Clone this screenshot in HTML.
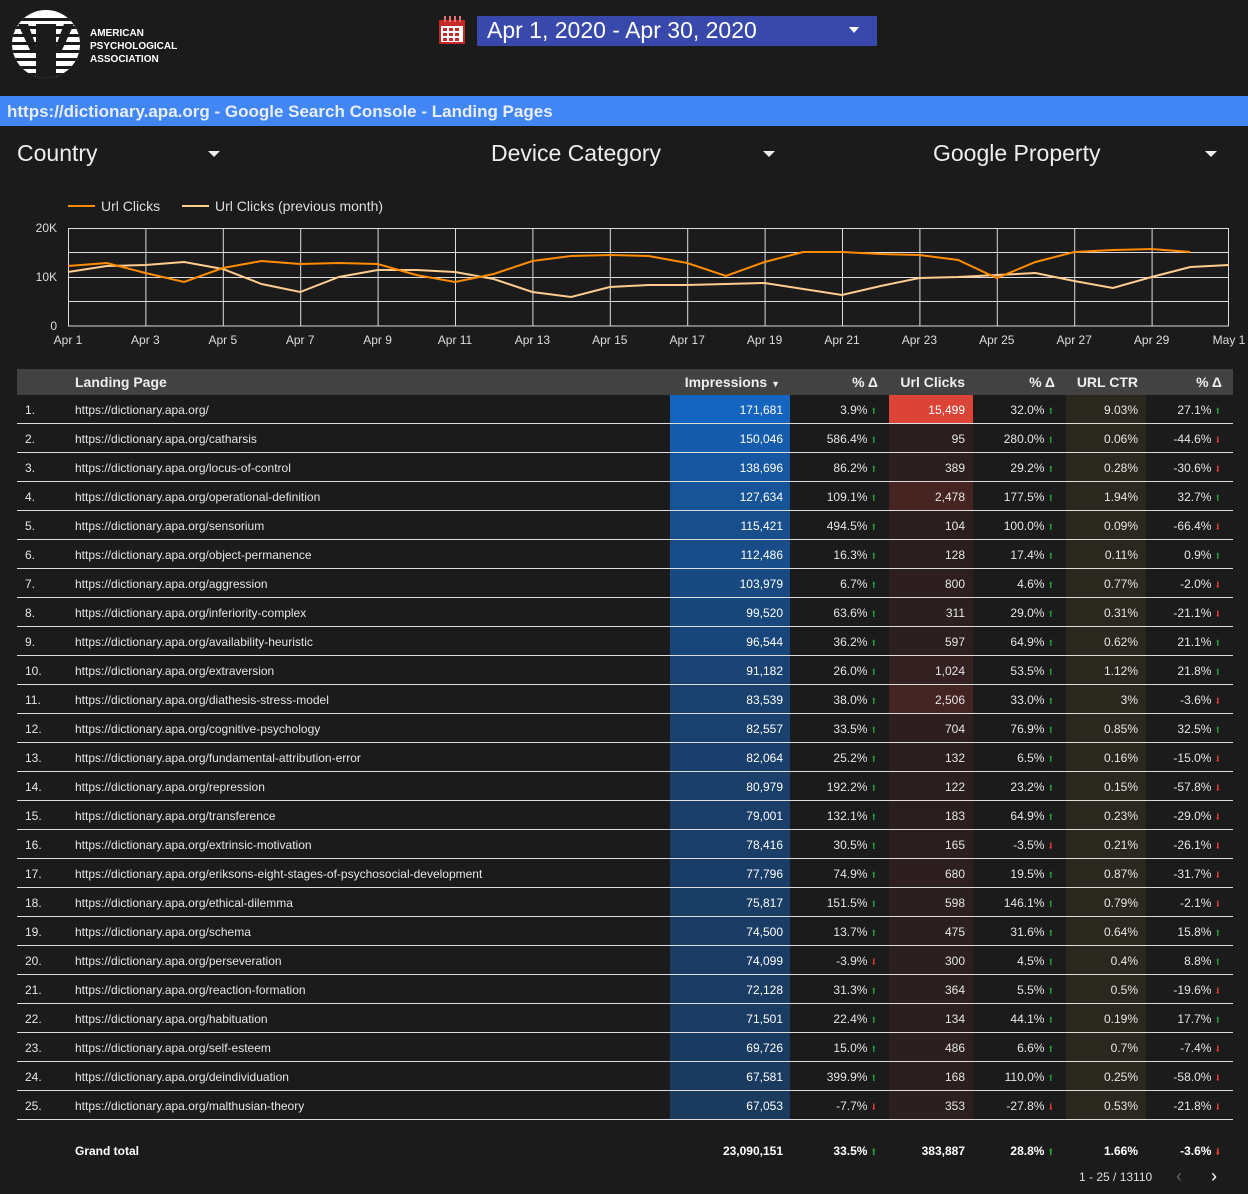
<!DOCTYPE html>
<html><head><meta charset="utf-8">
<style>
*{margin:0;padding:0;box-sizing:border-box}
body{width:1248px;height:1194px;background:#1b1b1b;font-family:"Liberation Sans",sans-serif;color:#e8e8e8;position:relative;overflow:hidden}
.abs{position:absolute}
.date{left:477px;top:16px;width:400px;height:30px;background:#3949ab;color:#fff;font-size:23px;line-height:29px;padding-left:10px}
.bar{left:0;top:96px;width:1248px;height:30px;background:#4285f4;color:#e8eef8;font-size:17px;font-weight:bold;line-height:31px;padding-left:7px}
.flt{top:140px;font-size:23px;color:#eee}
.tri{width:0;height:0;border-left:6px solid transparent;border-right:6px solid transparent;border-top:6px solid #eee}
table{position:absolute;left:17px;top:369px;width:1216px;border-collapse:collapse;border-spacing:0;font-size:12px;table-layout:fixed}
th{background:#424242;height:26px;font-size:14px;font-weight:bold;color:#eee;text-align:right;padding-right:11px}
td{height:29px;box-shadow:inset 0 -1px 0 #ddd;text-align:right;padding-right:11px;padding-top:0;padding-bottom:0;white-space:nowrap;color:#e6e6e6}
td.l,th.l{text-align:left;padding-left:0}
td.i{text-align:left;padding-left:8px}
td.im{padding-right:7px;color:#fff}
td.c{padding-right:8px}
td.t{padding-right:8px;background:#2a281e}
.u,.d{font-size:9px;margin-left:3px;display:inline-block;transform:scaleX(0.7)}
.u{color:#1e9e3a}.d{color:#e53935}
tr.tot td{box-shadow:none;font-weight:bold;height:62px;color:#fff}
tr.tot td.t{background:none}
</style></head><body>
<svg class="abs" style="left:0;top:0" width="200" height="90">
<defs><clipPath id="cc"><circle cx="46" cy="44" r="34"/></clipPath></defs>
<g clip-path="url(#cc)">
<rect x="0" y="0" width="100" height="90" fill="#fff"/>
<g fill="#1b1b1b">
<rect x="0" y="18" width="100" height="3"/><rect x="0" y="26" width="100" height="3"/><rect x="0" y="34" width="100" height="3"/><rect x="0" y="42" width="100" height="3"/><rect x="0" y="50" width="100" height="3"/><rect x="0" y="58" width="100" height="3"/><rect x="0" y="66" width="100" height="3"/><rect x="0" y="73" width="100" height="3"/>
<polygon points="18,24 28,24 36,46 36,24 44,24 44,78 36,78 36,52 30,50"/>
<polygon points="48,24 56,24 56,46 64,24 74,24 62,50 56,52 56,78 48,78"/>
<rect x="43" y="24" width="6" height="54"/>
</g></g>
<text x="90" y="36" fill="#fff" font-family="Liberation Sans" font-weight="bold" font-size="10">AMERICAN</text>
<text x="90" y="49" fill="#fff" font-family="Liberation Sans" font-weight="bold" font-size="10">PSYCHOLOGICAL</text>
<text x="90" y="62" fill="#fff" font-family="Liberation Sans" font-weight="bold" font-size="10">ASSOCIATION</text>
</svg>
<svg class="abs" style="left:438px;top:16px" width="28" height="30">
<rect x="1" y="4" width="26" height="24" fill="#c62828"/><rect x="3" y="10" width="22" height="16" fill="#fff"/>
<g fill="#c62828"><rect x="5" y="12" width="4" height="3"/><rect x="11" y="12" width="4" height="3"/><rect x="17" y="12" width="4" height="3"/><rect x="5" y="17" width="4" height="3"/><rect x="11" y="17" width="4" height="3"/><rect x="17" y="17" width="4" height="3"/><rect x="5" y="22" width="4" height="3"/><rect x="11" y="22" width="4" height="3"/><rect x="17" y="22" width="4" height="3"/></g>
<g fill="#e57373"><rect x="6" y="0" width="2" height="6"/><rect x="11" y="0" width="2" height="6"/><rect x="16" y="0" width="2" height="6"/><rect x="21" y="0" width="2" height="6"/></g>
</svg>
<div class="abs date">Apr 1, 2020 - Apr 30, 2020<div class="abs tri" style="left:372px;top:11px;border-top-color:#fff;border-left-width:5px;border-right-width:5px;border-top-width:6px"></div></div>
<div class="abs bar">https://dictionary.apa.org - Google Search Console - Landing Pages</div>
<div class="abs flt" style="left:17px">Country</div><div class="abs tri" style="left:208px;top:151px"></div>
<div class="abs flt" style="left:491px">Device Category</div><div class="abs tri" style="left:763px;top:151px"></div>
<div class="abs flt" style="left:933px">Google Property</div><div class="abs tri" style="left:1205px;top:151px"></div>

<svg class="abs" style="left:0;top:190px" width="1248" height="170" font-family="Liberation Sans" font-size="12" fill="#ddd">
<g transform="translate(0,-190)">
<line x1="68" y1="206" x2="95" y2="206" stroke="#ff8c00" stroke-width="2"/>
<text x="101" y="211" font-size="14">Url Clicks</text>
<line x1="182" y1="206" x2="209" y2="206" stroke="#ffcc8f" stroke-width="2"/>
<text x="215" y="211" font-size="14">Url Clicks (previous month)</text>
<g stroke="#ddd" stroke-width="1">
<line x1="68" y1="228.5" x2="1229" y2="228.5"/><line x1="68" y1="252.5" x2="1229" y2="252.5"/><line x1="68" y1="277.5" x2="1229" y2="277.5"/><line x1="68" y1="301.5" x2="1229" y2="301.5"/><line x1="68" y1="326" x2="1229" y2="326"/>
<line x1="68.5" y1="228" x2="68.5" y2="326"/><line x1="145.9" y1="228" x2="145.9" y2="326"/><line x1="223.3" y1="228" x2="223.3" y2="326"/><line x1="300.7" y1="228" x2="300.7" y2="326"/><line x1="378.1" y1="228" x2="378.1" y2="326"/><line x1="455.5" y1="228" x2="455.5" y2="326"/><line x1="532.9" y1="228" x2="532.9" y2="326"/><line x1="610.3" y1="228" x2="610.3" y2="326"/><line x1="687.7" y1="228" x2="687.7" y2="326"/><line x1="765.1" y1="228" x2="765.1" y2="326"/><line x1="842.5" y1="228" x2="842.5" y2="326"/><line x1="919.9" y1="228" x2="919.9" y2="326"/><line x1="997.3" y1="228" x2="997.3" y2="326"/><line x1="1074.7" y1="228" x2="1074.7" y2="326"/><line x1="1152.1" y1="228" x2="1152.1" y2="326"/><line x1="1228.5" y1="228" x2="1228.5" y2="326"/>
</g>
<polyline fill="none" stroke="#ffcc8f" stroke-width="2" points="68,272 106.7,266 145.4,265 184.1,262 222.8,269 261.5,284 300.2,292 338.9,277 377.6,270 416.3,270 455,272 493.7,279 532.4,292 571.1,297 609.8,287 648.5,285 687.2,285 725.9,284 764.6,283 803.3,289 842,295 880.7,286 919.4,278 958.1,277 996.8,275 1035.5,273 1074.2,281 1112.9,288 1151.6,277 1190.3,267 1229,265"/>
<polyline fill="none" stroke="#ff8c00" stroke-width="2" points="68,266 106.7,263 145.4,273 184.1,282 222.8,268 261.5,261 300.2,264 338.9,263 377.6,264 416.3,275 455,282 493.7,274 532.4,261 571.1,256 609.8,255 648.5,256 687.2,263 725.9,276 764.6,262 803.3,252 842,252 880.7,254 919.4,255 958.1,260 996.8,278 1035.5,262 1074.2,252 1112.9,250 1151.6,249 1190.3,252"/>
<text x="57" y="232" text-anchor="end">20K</text><text x="57" y="281" text-anchor="end">10K</text><text x="57" y="330" text-anchor="end">0</text>
<g text-anchor="middle"><text x="68" y="344">Apr 1</text><text x="145.4" y="344">Apr 3</text><text x="222.8" y="344">Apr 5</text><text x="300.2" y="344">Apr 7</text><text x="377.6" y="344">Apr 9</text><text x="455" y="344">Apr 11</text><text x="532.4" y="344">Apr 13</text><text x="609.8" y="344">Apr 15</text><text x="687.2" y="344">Apr 17</text><text x="764.6" y="344">Apr 19</text><text x="842" y="344">Apr 21</text><text x="919.4" y="344">Apr 23</text><text x="996.8" y="344">Apr 25</text><text x="1074.2" y="344">Apr 27</text><text x="1151.6" y="344">Apr 29</text><text x="1229" y="344">May 1</text></g>
</g></svg>

<table>
<colgroup><col style="width:58px"><col style="width:595px"><col style="width:120px"><col style="width:99px"><col style="width:84px"><col style="width:93px"><col style="width:80px"><col style="width:87px"></colgroup>
<tr><th></th><th class="l">Landing Page</th><th style="padding-right:10px">Impressions <span style="font-size:9px">▼</span></th><th>% Δ</th><th style="padding-right:8px">Url Clicks</th><th>% Δ</th><th style="padding-right:8px">URL CTR</th><th>% Δ</th></tr>
<tr><td class="i">1.</td><td class="l">https://dictionary.apa.org/</td><td class="im" style="background:rgb(21,101,192)">171,681</td><td>3.9%<span class="u">⬆</span></td><td class="c" style="background:#db4437;color:#fff">15,499</td><td>32.0%<span class="u">⬆</span></td><td class="t">9.03%</td><td>27.1%<span class="u">⬆</span></td></tr>
<tr><td class="i">2.</td><td class="l">https://dictionary.apa.org/catharsis</td><td class="im" style="background:rgb(22,92,172)">150,046</td><td>586.4%<span class="u">⬆</span></td><td class="c" style="background:#2a1e1e">95</td><td>280.0%<span class="u">⬆</span></td><td class="t">0.06%</td><td>-44.6%<span class="d">⬇</span></td></tr>
<tr><td class="i">3.</td><td class="l">https://dictionary.apa.org/locus-of-control</td><td class="im" style="background:rgb(23,87,161)">138,696</td><td>86.2%<span class="u">⬆</span></td><td class="c" style="background:#2b1f1f">389</td><td>29.2%<span class="u">⬆</span></td><td class="t">0.28%</td><td>-30.6%<span class="d">⬇</span></td></tr>
<tr><td class="i">4.</td><td class="l">https://dictionary.apa.org/operational-definition</td><td class="im" style="background:rgb(23,83,151)">127,634</td><td>109.1%<span class="u">⬆</span></td><td class="c" style="background:#462422">2,478</td><td>177.5%<span class="u">⬆</span></td><td class="t">1.94%</td><td>32.7%<span class="u">⬆</span></td></tr>
<tr><td class="i">5.</td><td class="l">https://dictionary.apa.org/sensorium</td><td class="im" style="background:rgb(24,78,139)">115,421</td><td>494.5%<span class="u">⬆</span></td><td class="c" style="background:#2a1e1e">104</td><td>100.0%<span class="u">⬆</span></td><td class="t">0.09%</td><td>-66.4%<span class="d">⬇</span></td></tr>
<tr><td class="i">6.</td><td class="l">https://dictionary.apa.org/object-permanence</td><td class="im" style="background:rgb(24,77,137)">112,486</td><td>16.3%<span class="u">⬆</span></td><td class="c" style="background:#2a1e1e">128</td><td>17.4%<span class="u">⬆</span></td><td class="t">0.11%</td><td>0.9%<span class="u">⬆</span></td></tr>
<tr><td class="i">7.</td><td class="l">https://dictionary.apa.org/aggression</td><td class="im" style="background:rgb(24,73,129)">103,979</td><td>6.7%<span class="u">⬆</span></td><td class="c" style="background:#2d1f1f">800</td><td>4.6%<span class="u">⬆</span></td><td class="t">0.77%</td><td>-2.0%<span class="d">⬇</span></td></tr>
<tr><td class="i">8.</td><td class="l">https://dictionary.apa.org/inferiority-complex</td><td class="im" style="background:rgb(24,71,124)">99,520</td><td>63.6%<span class="u">⬆</span></td><td class="c" style="background:#2b1f1f">311</td><td>29.0%<span class="u">⬆</span></td><td class="t">0.31%</td><td>-21.1%<span class="d">⬇</span></td></tr>
<tr><td class="i">9.</td><td class="l">https://dictionary.apa.org/availability-heuristic</td><td class="im" style="background:rgb(25,70,122)">96,544</td><td>36.2%<span class="u">⬆</span></td><td class="c" style="background:#2c1f1f">597</td><td>64.9%<span class="u">⬆</span></td><td class="t">0.62%</td><td>21.1%<span class="u">⬆</span></td></tr>
<tr><td class="i">10.</td><td class="l">https://dictionary.apa.org/extraversion</td><td class="im" style="background:rgb(26,66,114)">91,182</td><td>26.0%<span class="u">⬆</span></td><td class="c" style="background:#332020">1,024</td><td>53.5%<span class="u">⬆</span></td><td class="t">1.12%</td><td>21.8%<span class="u">⬆</span></td></tr>
<tr><td class="i">11.</td><td class="l">https://dictionary.apa.org/diathesis-stress-model</td><td class="im" style="background:rgb(26,64,110)">83,539</td><td>38.0%<span class="u">⬆</span></td><td class="c" style="background:#432423">2,506</td><td>33.0%<span class="u">⬆</span></td><td class="t">3%</td><td>-3.6%<span class="d">⬇</span></td></tr>
<tr><td class="i">12.</td><td class="l">https://dictionary.apa.org/cognitive-psychology</td><td class="im" style="background:rgb(26,64,109)">82,557</td><td>33.5%<span class="u">⬆</span></td><td class="c" style="background:#2d1f1f">704</td><td>76.9%<span class="u">⬆</span></td><td class="t">0.85%</td><td>32.5%<span class="u">⬆</span></td></tr>
<tr><td class="i">13.</td><td class="l">https://dictionary.apa.org/fundamental-attribution-error</td><td class="im" style="background:rgb(26,63,108)">82,064</td><td>25.2%<span class="u">⬆</span></td><td class="c" style="background:#2a1e1e">132</td><td>6.5%<span class="u">⬆</span></td><td class="t">0.16%</td><td>-15.0%<span class="d">⬇</span></td></tr>
<tr><td class="i">14.</td><td class="l">https://dictionary.apa.org/repression</td><td class="im" style="background:rgb(26,63,107)">80,979</td><td>192.2%<span class="u">⬆</span></td><td class="c" style="background:#2a1e1e">122</td><td>23.2%<span class="u">⬆</span></td><td class="t">0.15%</td><td>-57.8%<span class="d">⬇</span></td></tr>
<tr><td class="i">15.</td><td class="l">https://dictionary.apa.org/transference</td><td class="im" style="background:rgb(26,62,105)">79,001</td><td>132.1%<span class="u">⬆</span></td><td class="c" style="background:#2a1e1e">183</td><td>64.9%<span class="u">⬆</span></td><td class="t">0.23%</td><td>-29.0%<span class="d">⬇</span></td></tr>
<tr><td class="i">16.</td><td class="l">https://dictionary.apa.org/extrinsic-motivation</td><td class="im" style="background:rgb(26,62,104)">78,416</td><td>30.5%<span class="u">⬆</span></td><td class="c" style="background:#2a1e1e">165</td><td>-3.5%<span class="d">⬇</span></td><td class="t">0.21%</td><td>-26.1%<span class="d">⬇</span></td></tr>
<tr><td class="i">17.</td><td class="l">https://dictionary.apa.org/eriksons-eight-stages-of-psychosocial-development</td><td class="im" style="background:rgb(26,61,103)">77,796</td><td>74.9%<span class="u">⬆</span></td><td class="c" style="background:#2d1f1f">680</td><td>19.5%<span class="u">⬆</span></td><td class="t">0.87%</td><td>-31.7%<span class="d">⬇</span></td></tr>
<tr><td class="i">18.</td><td class="l">https://dictionary.apa.org/ethical-dilemma</td><td class="im" style="background:rgb(26,61,102)">75,817</td><td>151.5%<span class="u">⬆</span></td><td class="c" style="background:#2c1f1f">598</td><td>146.1%<span class="u">⬆</span></td><td class="t">0.79%</td><td>-2.1%<span class="d">⬇</span></td></tr>
<tr><td class="i">19.</td><td class="l">https://dictionary.apa.org/schema</td><td class="im" style="background:rgb(26,60,101)">74,500</td><td>13.7%<span class="u">⬆</span></td><td class="c" style="background:#2b1f1f">475</td><td>31.6%<span class="u">⬆</span></td><td class="t">0.64%</td><td>15.8%<span class="u">⬆</span></td></tr>
<tr><td class="i">20.</td><td class="l">https://dictionary.apa.org/perseveration</td><td class="im" style="background:rgb(26,60,100)">74,099</td><td>-3.9%<span class="d">⬇</span></td><td class="c" style="background:#2b1f1f">300</td><td>4.5%<span class="u">⬆</span></td><td class="t">0.4%</td><td>8.8%<span class="u">⬆</span></td></tr>
<tr><td class="i">21.</td><td class="l">https://dictionary.apa.org/reaction-formation</td><td class="im" style="background:rgb(26,60,99)">72,128</td><td>31.3%<span class="u">⬆</span></td><td class="c" style="background:#2b1f1f">364</td><td>5.5%<span class="u">⬆</span></td><td class="t">0.5%</td><td>-19.6%<span class="d">⬇</span></td></tr>
<tr><td class="i">22.</td><td class="l">https://dictionary.apa.org/habituation</td><td class="im" style="background:rgb(26,59,98)">71,501</td><td>22.4%<span class="u">⬆</span></td><td class="c" style="background:#2a1e1e">134</td><td>44.1%<span class="u">⬆</span></td><td class="t">0.19%</td><td>17.7%<span class="u">⬆</span></td></tr>
<tr><td class="i">23.</td><td class="l">https://dictionary.apa.org/self-esteem</td><td class="im" style="background:rgb(26,59,97)">69,726</td><td>15.0%<span class="u">⬆</span></td><td class="c" style="background:#2b1f1f">486</td><td>6.6%<span class="u">⬆</span></td><td class="t">0.7%</td><td>-7.4%<span class="d">⬇</span></td></tr>
<tr><td class="i">24.</td><td class="l">https://dictionary.apa.org/deindividuation</td><td class="im" style="background:rgb(26,58,95)">67,581</td><td>399.9%<span class="u">⬆</span></td><td class="c" style="background:#2a1e1e">168</td><td>110.0%<span class="u">⬆</span></td><td class="t">0.25%</td><td>-58.0%<span class="d">⬇</span></td></tr>
<tr><td class="i">25.</td><td class="l">https://dictionary.apa.org/malthusian-theory</td><td class="im" style="background:rgb(26,58,94)">67,053</td><td>-7.7%<span class="d">⬇</span></td><td class="c" style="background:#2b1f1f">353</td><td>-27.8%<span class="d">⬇</span></td><td class="t">0.53%</td><td>-21.8%<span class="d">⬇</span></td></tr>
<tr class="tot"><td></td><td class="l">Grand total</td><td class="im">23,090,151</td><td>33.5%<span class="u">⬆</span></td><td class="c">383,887</td><td>28.8%<span class="u">⬆</span></td><td class="t">1.66%</td><td>-3.6%<span class="d">⬇</span></td></tr>
</table>
<div class="abs" style="left:1079px;top:1170px;font-size:12px;color:#ddd">1 - 25 / 13110</div>
<div class="abs" style="left:1176px;top:1166px;font-size:18px;color:#666">‹</div>
<div class="abs" style="left:1211px;top:1166px;font-size:18px;color:#fff">›</div>
</body></html>
